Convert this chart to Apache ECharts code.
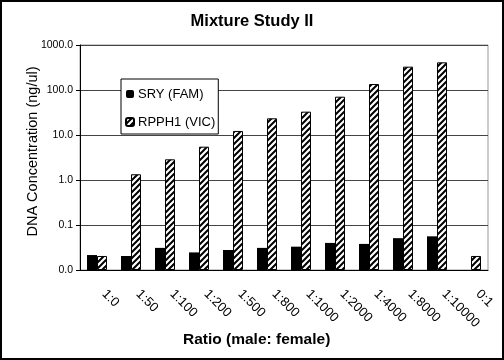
<!DOCTYPE html>
<html>
<head>
<meta charset="utf-8">
<script src="https://cdn.jsdelivr.net/npm/echarts@6/dist/echarts.min.js"></script>
<style>
  html, body { margin: 0; padding: 0; background: #fff; }
  #chart { width: 504px; height: 360px; }
</style>
</head>
<body>
<div id="chart"></div>
<script>
  // values (log scale, ng/ul)
  var ratios = ['1:0', '1:50', '1:100', '1:200', '1:500', '1:800', '1:1000', '1:2000', '1:4000', '1:8000', '1:10000', '0:1']
  var sry = [0.0215, 0.0205, 0.031, 0.0246, 0.0278, 0.031, 0.033, 0.040, 0.038, 0.051, 0.056, null]
  var rpph1 = [0.0205, 1.34, 2.88, 5.5, 12.3, 23.5, 33, 71, 136, 330, 412, 0.0205]
  var yMin = 0.01
  var yMax = 1000

  var font = 'Liberation Sans, Arial, sans-serif'

  // bars on an echarts log axis grow from 1, excel grows them from the axis floor,
  // so plot decades above yMin on a plain value axis and label it back
  var lo = Math.log10(yMin)
  function toAxis(v) { return v == null ? null : Math.log10(v) - lo }
  function fromAxis(d) { return Math.pow(10, d + lo) }

  // diagonal hatch like the old excel fill
  function hatch() {
    var c = document.createElement('canvas')
    c.width = 6
    c.height = 6
    var ctx = c.getContext('2d')
    ctx.fillStyle = '#fff'
    ctx.fillRect(0, 0, 6, 6)
    ctx.strokeStyle = '#000'
    ctx.lineWidth = 2
    ctx.beginPath()
    for (var k = -1; k <= 2; k++) {
      ctx.moveTo(-6 + k * 6, 6 + 6)
      ctx.lineTo(6 + 6 + k * 6, -6)
    }
    ctx.stroke()
    return c
  }

  var chart = echarts.init(document.getElementById('chart'))
  chart.setOption({
    animation: false,
    textStyle: { fontFamily: font },
    title: [
      {
        text: 'Mixture Study II',
        left: 'center',
        top: 13,
        padding: 0,
        textStyle: { fontSize: 16.5, fontWeight: 'bold', color: '#000', fontFamily: font }
      },
      {
        text: 'Ratio (male: female)',
        left: 183,
        top: 332,
        padding: 0,
        textStyle: { fontSize: 15.5, fontWeight: 'bold', color: '#000', fontFamily: font }
      }
    ],
    graphic: [
      {
        type: 'rect',
        shape: { x: 1, y: 1, width: 502, height: 358 },
        style: { fill: null, stroke: '#000', lineWidth: 2 },
        silent: true
      }
    ],
    legend: {
      orient: 'vertical',
      left: 121,
      top: 79,
      padding: [8, 3, 5, 4],
      itemGap: 14,
      itemWidth: 8,
      itemHeight: 8,
      backgroundColor: '#fff',
      borderColor: '#000',
      borderWidth: 1,
      textStyle: { fontSize: 13, color: '#000', lineHeight: 14, padding: [0, 0, 0, -1] },
      data: ['SRY (FAM)', 'RPPH1 (VIC)']
    },
    grid: {
      left: 80,
      right: 16,
      top: 45,
      bottom: 90,
      show: true,
      borderColor: '#999',
      borderWidth: 1
    },
    xAxis: {
      type: 'category',
      data: ratios,
      axisLine: { lineStyle: { color: '#000' } },
      axisTick: { length: 5, lineStyle: { color: '#000' } },
      axisLabel: { rotate: -45, fontSize: 13, color: '#000', margin: 15, padding: [0, 0, 0, 10], interval: 0 }
    },
    yAxis: {
      type: 'value',
      min: 0,
      max: toAxis(yMax),
      interval: 1,
      name: 'DNA Concentration (ng/ul)',
      nameLocation: 'middle',
      nameGap: 40,
      nameMoveOverlap: false,
      nameTextStyle: { fontSize: 14.5, color: '#000', padding: [0, 0, 0, 12] },
      axisLine: { show: true, lineStyle: { color: '#000' } },
      axisTick: { show: true, length: 4, lineStyle: { color: '#000' } },
      axisLabel: {
        fontSize: 10.5,
        color: '#000',
        margin: 7,
        formatter: function (d) { return fromAxis(d).toFixed(1) }
      },
      splitLine: { lineStyle: { color: '#444', width: 1 } }
    },
    series: [
      {
        name: 'SRY (FAM)',
        type: 'bar',
        barWidth: 10,
        barGap: '0%',
        itemStyle: { color: '#000' },
        data: sry.map(toAxis)
      },
      {
        name: 'RPPH1 (VIC)',
        type: 'bar',
        barWidth: 10,
        itemStyle: {
          color: { image: hatch(), repeat: 'repeat' },
          borderColor: '#000',
          borderWidth: 1
        },
        data: rpph1.map(toAxis)
      }
    ]
  })
</script>
</body>
</html>
